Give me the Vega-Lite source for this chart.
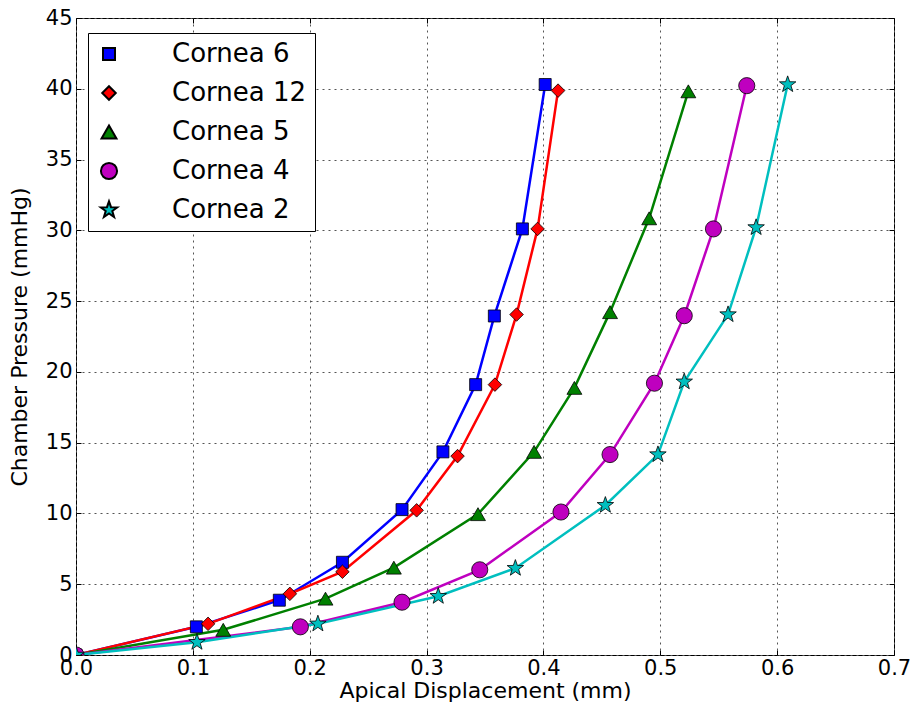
{
  "$schema": "https://vega.github.io/schema/vega-lite/v6.json",
  "width": 818,
  "height": 637,
  "autosize": {"type": "none"},
  "padding": {"left": 76, "top": 18, "right": 18, "bottom": 51},
  "background": "white",
  "config": {
    "font": "DejaVu Sans",
    "view": {"stroke": "black", "strokeWidth": 1},
    "axis": {
      "labelFont": "DejaVu Sans",
      "titleFont": "DejaVu Sans",
      "labelFontSize": 21,
      "titleFontSize": 22,
      "labelColor": "black",
      "titleColor": "black",
      "titleFontWeight": "normal",
      "tickColor": "black",
      "domain": false,
      "labelFlush": false,
      "labelOverlap": false
    }
  },
  "data": {
    "values": [
      {"series": "Cornea 6", "x": 0, "y": 0},
      {"series": "Cornea 6", "x": 0.103, "y": 1.99},
      {"series": "Cornea 6", "x": 0.174, "y": 3.87},
      {"series": "Cornea 6", "x": 0.228, "y": 6.55},
      {"series": "Cornea 6", "x": 0.279, "y": 10.27},
      {"series": "Cornea 6", "x": 0.314, "y": 14.35},
      {"series": "Cornea 6", "x": 0.342, "y": 19.1},
      {"series": "Cornea 6", "x": 0.358, "y": 23.95},
      {"series": "Cornea 6", "x": 0.382, "y": 30.1},
      {"series": "Cornea 6", "x": 0.4015, "y": 40.3},
      {"series": "Cornea 12", "x": 0, "y": 0},
      {"series": "Cornea 12", "x": 0.113, "y": 2.2},
      {"series": "Cornea 12", "x": 0.183, "y": 4.32},
      {"series": "Cornea 12", "x": 0.228, "y": 5.88},
      {"series": "Cornea 12", "x": 0.2915, "y": 10.22},
      {"series": "Cornea 12", "x": 0.3265, "y": 14.05},
      {"series": "Cornea 12", "x": 0.3585, "y": 19.1},
      {"series": "Cornea 12", "x": 0.377, "y": 24.05},
      {"series": "Cornea 12", "x": 0.395, "y": 30.1},
      {"series": "Cornea 12", "x": 0.4125, "y": 39.87},
      {"series": "Cornea 5", "x": 0, "y": 0},
      {"series": "Cornea 5", "x": 0.126, "y": 1.78},
      {"series": "Cornea 5", "x": 0.2135, "y": 3.98},
      {"series": "Cornea 5", "x": 0.272, "y": 6.17},
      {"series": "Cornea 5", "x": 0.344, "y": 9.95},
      {"series": "Cornea 5", "x": 0.392, "y": 14.35},
      {"series": "Cornea 5", "x": 0.4265, "y": 18.87},
      {"series": "Cornea 5", "x": 0.457, "y": 24.22},
      {"series": "Cornea 5", "x": 0.4905, "y": 30.85},
      {"series": "Cornea 5", "x": 0.524, "y": 39.82},
      {"series": "Cornea 4", "x": 0, "y": 0},
      {"series": "Cornea 4", "x": 0.192, "y": 1.99},
      {"series": "Cornea 4", "x": 0.279, "y": 3.73},
      {"series": "Cornea 4", "x": 0.3455, "y": 6.02},
      {"series": "Cornea 4", "x": 0.415, "y": 10.1},
      {"series": "Cornea 4", "x": 0.457, "y": 14.16},
      {"series": "Cornea 4", "x": 0.495, "y": 19.2},
      {"series": "Cornea 4", "x": 0.5205, "y": 23.97},
      {"series": "Cornea 4", "x": 0.5455, "y": 30.1},
      {"series": "Cornea 4", "x": 0.574, "y": 40.22},
      {"series": "Cornea 2", "x": 0, "y": 0},
      {"series": "Cornea 2", "x": 0.1035, "y": 0.9},
      {"series": "Cornea 2", "x": 0.207, "y": 2.2},
      {"series": "Cornea 2", "x": 0.31, "y": 4.15},
      {"series": "Cornea 2", "x": 0.376, "y": 6.13},
      {"series": "Cornea 2", "x": 0.453, "y": 10.58},
      {"series": "Cornea 2", "x": 0.498, "y": 14.16},
      {"series": "Cornea 2", "x": 0.5205, "y": 19.3},
      {"series": "Cornea 2", "x": 0.558, "y": 24.05},
      {"series": "Cornea 2", "x": 0.582, "y": 30.2},
      {"series": "Cornea 2", "x": 0.609, "y": 40.3}
    ]
  },
  "resolve": {"axis": {"x": "independent", "y": "independent"}, "legend": {"color": "independent", "shape": "independent", "size": "independent"}},
  "layer": [
    {
      "mark": {"type": "line", "strokeWidth": 2.5, "clip": true},
      "encoding": {
        "x": {
          "field": "x", "type": "quantitative",
          "scale": {"domain": [0, 0.7], "nice": false, "zero": false},
          "axis": {
            "title": "Apical Displacement (mm)",
            "values": [0, 0.1, 0.2, 0.3, 0.4, 0.5, 0.6, 0.7],
            "format": ".1f",
            "tickSize": -5,
            "labelPadding": 7,
            "titlePadding": 2,
            "grid": true,
            "gridColor": "#555",
            "gridDash": [2, 4],
            "gridWidth": 1
          }
        },
        "y": {
          "field": "y", "type": "quantitative",
          "scale": {"domain": [0, 45], "nice": false, "zero": false},
          "axis": {
            "title": "Chamber Pressure (mmHg)",
            "values": [0, 5, 10, 15, 20, 25, 30, 35, 40, 45],
            "tickSize": -5,
            "labelPadding": 9,
            "titlePadding": 14,
            "grid": true,
            "gridColor": "#555",
            "gridDash": [2, 4],
            "gridWidth": 1
          }
        },
        "color": {
          "field": "series", "type": "nominal",
          "scale": {"domain": ["Cornea 6", "Cornea 12", "Cornea 5", "Cornea 4", "Cornea 2"], "range": ["#0000ff", "#ff0000", "#008000", "#bf00bf", "#00bfbf"]},
          "legend": null
        }
      }
    },
    {
      "mark": {"type": "point", "filled": true, "opacity": 1, "stroke": "black", "strokeWidth": 0.8, "clip": true},
      "encoding": {
        "x": {
          "field": "x", "type": "quantitative",
          "axis": {"orient": "top", "labels": false, "title": null, "grid": false, "tickSize": -5, "values": [0, 0.1, 0.2, 0.3, 0.4, 0.5, 0.6, 0.7]}
        },
        "y": {
          "field": "y", "type": "quantitative",
          "axis": {"orient": "right", "labels": false, "title": null, "grid": false, "tickSize": -5, "values": [0, 5, 10, 15, 20, 25, 30, 35, 40, 45]}
        },
        "color": {
          "field": "series", "type": "nominal",
          "legend": {
            "title": null,
            "orient": "none",
            "legendX": 12,
            "legendY": 15,
            "padding": 8,
            "rowPadding": 13,
            "strokeColor": "black",
            "fillColor": "white",
            "cornerRadius": 0,
            "labelFont": "DejaVu Sans",
            "labelFontSize": 26,
            "labelColor": "black",
            "labelOffset": 50,
            "symbolSize": 400,
            "symbolStrokeWidth": 2,
            "encode": {
              "symbols": {
                "shape": {"value": {"expr": "datum.value === 'Cornea 6' ? 'M-0.7,0H3.3M-1.3,-0.6H-0.1V0.6H-1.3ZM2.7,-0.6H3.9V0.6H2.7Z' : datum.value === 'Cornea 12' ? 'M-0.7,0H3.3M-1.5,0L-0.7,-0.8L0.1,0L-0.7,0.8ZM2.5,0L3.3,-0.8L4.1,0L3.3,0.8Z' : datum.value === 'Cornea 5' ? 'M-0.7,0H3.3M-1.35,0.5L-0.7,-0.65L-0.05,0.5ZM2.65,0.5L3.3,-0.65L3.95,0.5Z' : datum.value === 'Cornea 4' ? 'M-0.7,0H3.3M-1.35,0A0.65,0.65 0 1,0 -0.05,0A0.65,0.65 0 1,0 -1.35,0ZM2.65,0A0.65,0.65 0 1,0 3.95,0A0.65,0.65 0 1,0 2.65,0Z' : 'M-0.7,0H3.3M-0.7,-0.7L-0.5355,-0.2268L-0.0343,-0.2163L-0.434,0.0868L-0.2884,0.5663L-0.7,0.28L-1.1116,0.5663L-0.966,0.0868L-1.3657,-0.2163L-0.8645,-0.2268ZM3.3,-0.7L3.4645,-0.2268L3.9657,-0.2163L3.566,0.0868L3.7116,0.5663L3.3,0.28L2.8884,0.5663L3.034,0.0868L2.6343,-0.2163L3.1355,-0.2268Z'"}},
                "stroke": {"value": {"expr": "scale('color', datum.value)"}},
                "strokeWidth": {"value": 2},
                "size": {"value": 400},
                "opacity": {"value": 1}
              }
            }
          }
        },
        "shape": {
          "field": "series", "type": "nominal",
          "scale": {"domain": ["Cornea 6", "Cornea 12", "Cornea 5", "Cornea 4", "Cornea 2"], "range": ["square", "M0,-1L1,0L0,1L-1,0Z", "triangle-up", "circle", "M0,-1L0.235,-0.324L0.951,-0.309L0.38,0.124L0.588,0.809L0,0.4L-0.588,0.809L-0.38,0.124L-0.951,-0.309L-0.235,-0.324Z"]},
          "legend": null
        },
        "size": {
          "field": "series", "type": "nominal",
          "scale": {"domain": ["Cornea 6", "Cornea 12", "Cornea 5", "Cornea 4", "Cornea 2"], "range": [144, 300, 170, 160, 190]},
          "legend": null
        }
      }
    }
  ]
}
